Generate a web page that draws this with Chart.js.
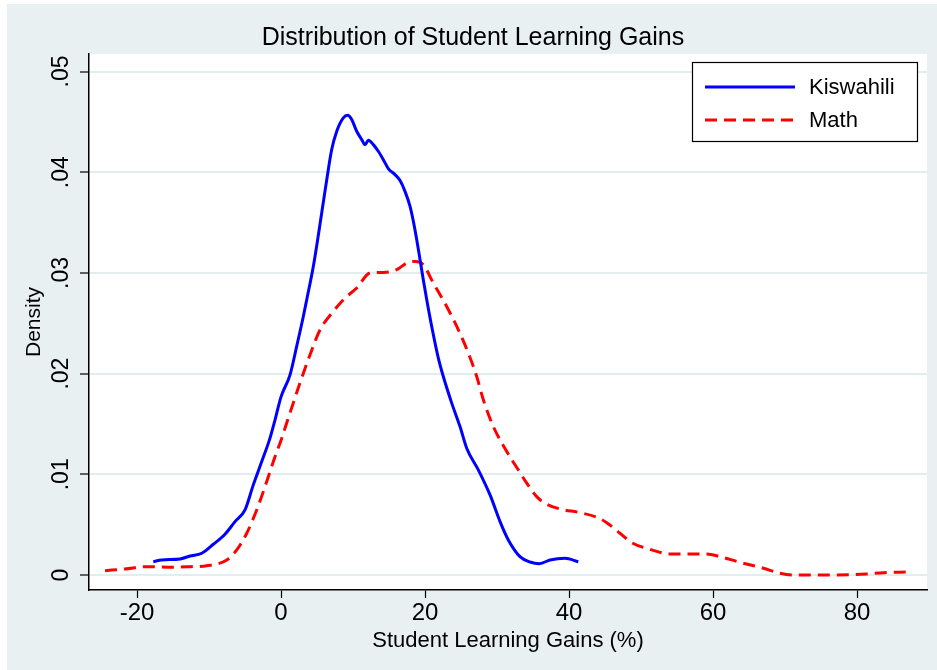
<!DOCTYPE html>
<html><head><meta charset="utf-8">
<script src="https://cdn.jsdelivr.net/npm/chart.js@4/dist/chart.umd.min.js"></script>
<style>html,body{margin:0;padding:0;background:#fff;} canvas{display:block;}</style>
</head><body>
<div style="width:937px;height:670px;position:relative"><canvas id="c" width="937" height="670"></canvas></div>
<script>
const chartTitle = 'Distribution of Student Learning Gains';
const xAxisTitle = 'Student Learning Gains (%)';
const yAxisTitle = 'Density';
const seriesNames = ['Kiswahili', 'Math'];
const xTickValues = [-20, 0, 20, 40, 60, 80];
const xTickLabels = ['-20', '0', '20', '40', '60', '80'];
const yTickValues = [0, 0.01, 0.02, 0.03, 0.04, 0.05];
const yTickLabels = ['0', '.01', '.02', '.03', '.04', '.05'];

const kiswahiliX = [-17.74,-16.57,-14.03,-12.64,-11.01,-9.40,-7.78,-6.39,-5.0,-3.85,-2.68,-1.53,-0.83,0,1.25,2.22,3.06,3.57,4.49,5.65,6.35,7.04,7.74,8.65,9.26,9.82,10.51,11.21,11.67,12.13,12.82,13.51,14.21,14.90,15.83,16.53,17.22,17.92,18.38,18.85,19.31,19.76,20.24,20.93,21.85,22.54,23.71,24.86,25.79,27.40,29.03,30.42,31.57,33.19,34.58,35.88,37.36,39.44,41.29];
const kiswahiliY = [0.00132,0.00149,0.00159,0.00189,0.00216,0.00305,0.00405,0.0053,0.00646,0.00895,0.01126,0.01359,0.01541,0.01769,0.01988,0.02286,0.02555,0.02734,0.03065,0.03595,0.03926,0.04225,0.04407,0.0454,0.04566,0.04523,0.04407,0.04324,0.04274,0.04317,0.04274,0.04208,0.04125,0.04036,0.03976,0.03917,0.0381,0.03661,0.03512,0.0333,0.03131,0.02932,0.02734,0.02468,0.02154,0.01971,0.01707,0.01474,0.01259,0.01044,0.00795,0.0053,0.00348,0.00182,0.00129,0.00112,0.00149,0.00166,0.00132];

const mathX = [-24.44,-21.67,-18.65,-15.65,-12.64,-10.32,-7.54,-6.15,-4.76,-3.38,-2.22,-1.07,0.10,0.93,2.64,4.03,5.42,7.22,8.89,10.51,12.36,14.21,16.07,17.46,18.61,19.76,21.15,23.01,24.63,26.01,27.18,28.10,29.49,31.35,32.96,34.13,35.51,36.90,38.75,41.53,43.85,45.24,47.08,48.71,51.25,54.03,56.35,59.13,60.97,63.75,66.99,69.31,71.15,76.71,79.49,81.35,83.65,87.13];
const mathY = [0.00043,0.0006,0.00083,0.00077,0.00083,0.00092,0.00149,0.00249,0.00415,0.00646,0.00878,0.01126,0.01359,0.01541,0.01909,0.02187,0.02435,0.02614,0.0275,0.0285,0.02999,0.03005,0.03032,0.03098,0.03114,0.03082,0.029,0.02667,0.02435,0.02204,0.01971,0.0174,0.01474,0.01226,0.01044,0.00912,0.00778,0.00703,0.00656,0.00619,0.00574,0.0052,0.00415,0.00321,0.00255,0.00209,0.00209,0.00209,0.00182,0.00126,0.00067,0.00017,0.0,0.0,0.00003,0.0001,0.00023,0.0003];

const FONT = 'Liberation Sans, Arial, Helvetica, sans-serif';
const OUTER_BG = '#e8f0f2';
const GRID = '#e3ecee';

const toPoints = (xs, ys) => xs.map((x, i) => ({x: x, y: ys[i]}));

const backgroundPlugin = {
  id: 'bg',
  beforeDraw(chart) {
    const {ctx, chartArea: a} = chart;
    ctx.save();
    ctx.fillStyle = '#ffffff';
    ctx.fillRect(0, 0, chart.width, chart.height);
    ctx.fillStyle = OUTER_BG;
    ctx.fillRect(7, 4, chart.width - 7, chart.height - 4);
    ctx.fillStyle = '#ffffff';
    ctx.fillRect(a.left, a.top, a.right - a.left, a.bottom - a.top);
    ctx.restore();
  }
};

const legendBoxPlugin = {
  id: 'legendBox',
  afterDraw(chart) {
    const {ctx, chartArea: a} = chart;
    const w = 225, h = 79;
    const left = a.right - 10 - w, top = a.top + 8;
    ctx.save();
    ctx.fillStyle = '#ffffff';
    ctx.fillRect(left, top, w, h);
    ctx.strokeStyle = '#000000';
    ctx.lineWidth = 1.2;
    ctx.strokeRect(left + 0.5, top + 0.5, w, h);
    chart.data.datasets.forEach((ds, i) => {
      const y = top + 25 + i * 33;
      ctx.beginPath();
      ctx.strokeStyle = ds.borderColor;
      ctx.lineWidth = ds.borderWidth;
      ctx.setLineDash(ds.borderDash || []);
      ctx.moveTo(left + 13, y);
      ctx.lineTo(left + 103, y);
      ctx.stroke();
      ctx.setLineDash([]);
      ctx.fillStyle = '#000000';
      ctx.font = '22px ' + FONT;
      ctx.textBaseline = 'middle';
      ctx.textAlign = 'left';
      ctx.fillText(ds.label, left + 117, y + 1);
    });
    ctx.restore();
  }
};

new Chart(document.getElementById('c'), {
  type: 'scatter',
  data: {
    datasets: [
      {label: seriesNames[0], data: toPoints(kiswahiliX, kiswahiliY), showLine: true,
       borderColor: '#0000ff', backgroundColor: '#0000ff', borderWidth: 3, pointRadius: 0,
       cubicInterpolationMode: 'monotone'},
      {label: seriesNames[1], data: toPoints(mathX, mathY), showLine: true,
       borderColor: '#ff0000', backgroundColor: '#ff0000', borderWidth: 3, borderDash: [12, 7], pointRadius: 0,
       cubicInterpolationMode: 'monotone'}
    ]
  },
  options: {
    responsive: false,
    animation: false,
    devicePixelRatio: 1,
    layout: {padding: {left: 19, top: 4, right: 10, bottom: 0}},
    plugins: {
      legend: {display: false},
      tooltip: {enabled: false},
      title: {display: true, text: chartTitle, color: '#000',
              font: {family: FONT, size: 25, weight: 'normal', lineHeight: 1.2},
              padding: {top: 19, bottom: 1}}
    },
    scales: {
      x: {
        type: 'linear', min: -26.67, max: 89.72,
        afterBuildTicks: s => { s.ticks = xTickValues.map(v => ({value: v})); },
        afterFit: s => { s.height = 80; },
        ticks: {color: '#000', font: {family: FONT, size: 24}, padding: 1,
                callback: v => xTickLabels[xTickValues.indexOf(v)]},
        grid: {drawOnChartArea: false, drawTicks: true, tickLength: 8, tickColor: '#000', tickWidth: 1.2},
        border: {display: true, color: '#000', width: 1.5},
        title: {display: true, text: xAxisTitle, color: '#000',
                font: {family: FONT, size: 22, lineHeight: 1.2}, padding: {top: 0, bottom: 16}}
      },
      y: {
        type: 'linear', min: -0.00149, max: 0.05174,
        afterBuildTicks: s => { s.ticks = yTickValues.map(v => ({value: v})); },
        afterFit: s => { s.width = 70; },
        ticks: {color: '#000', font: {family: FONT, size: 23}, padding: 2, minRotation: 90, maxRotation: 90,
                crossAlign: 'center',
                callback: v => yTickLabels[yTickValues.indexOf(v)]},
        grid: {color: GRID, lineWidth: 2, drawTicks: true, tickLength: 9, tickColor: '#000', tickWidth: 1.2},
        border: {display: true, color: '#000', width: 1.5},
        title: {display: true, text: yAxisTitle, color: '#000',
                font: {family: FONT, size: 21, lineHeight: 1.2}, padding: {top: 3, bottom: 0}}
      }
    }
  },
  plugins: [backgroundPlugin, legendBoxPlugin]
});
</script>
</body></html>
